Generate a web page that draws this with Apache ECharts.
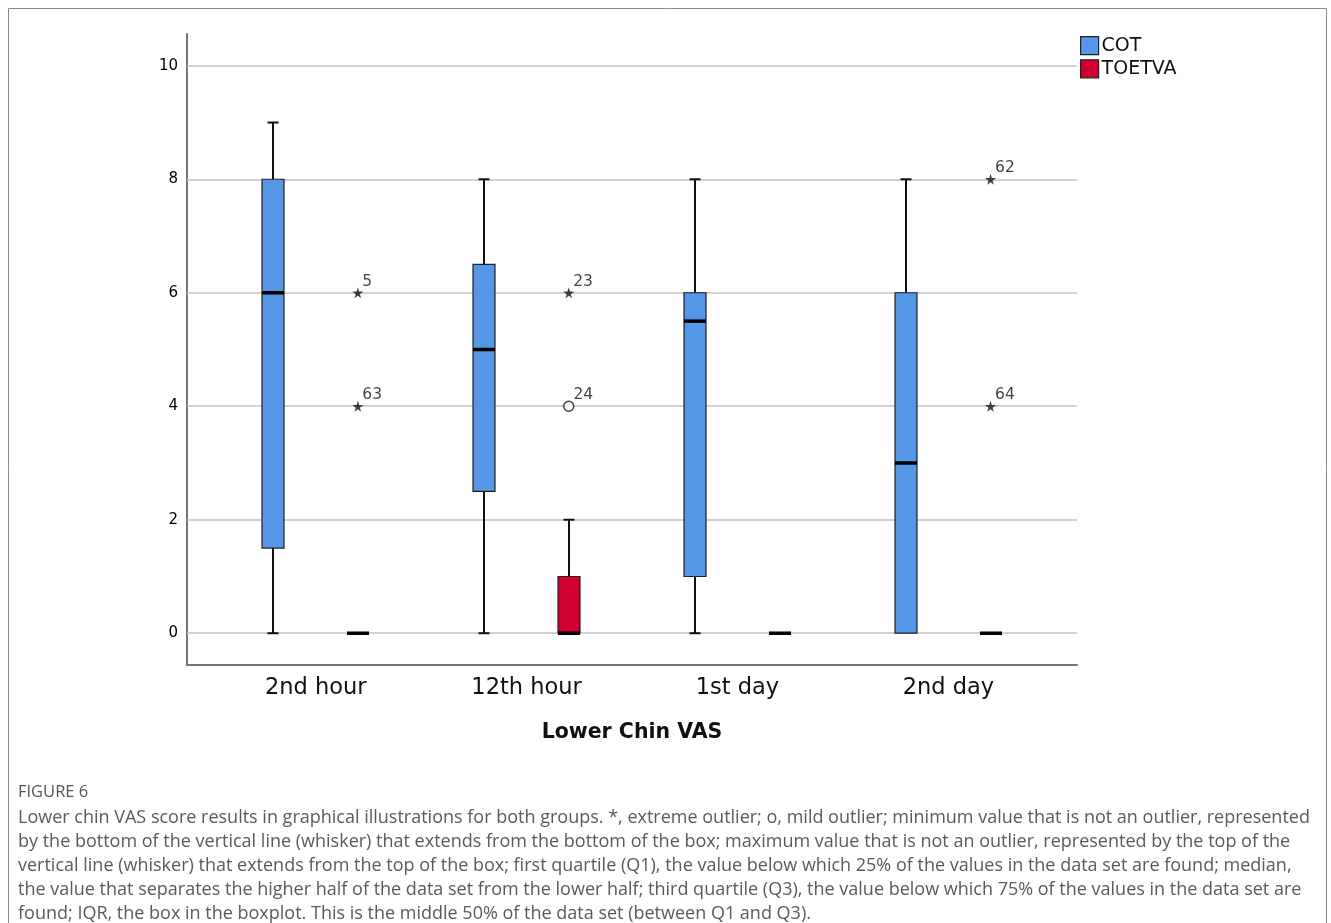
<!DOCTYPE html>
<html>
<head>
<meta charset="utf-8">
<script src="https://cdn.jsdelivr.net/npm/echarts@6/dist/echarts.min.js"></script>
<style>
html,body{margin:0;padding:0;background:#fff;}
#chart{width:1331px;height:923px;}
</style>
</head>
<body>
<div id="chart"></div>
<script>
const categories = ['2nd hour', '12th hour', '1st day', '2nd day'];
// [min, Q1, median, Q3, max]
const cotStats = [[0, 1.5, 6, 8, 9], [0, 2.5, 5, 6.5, 8], [0, 1, 5.5, 6, 8], [0, 0, 3, 6, 8]];
const toetvaStats = [[0, 0, 0, 0, 0], [0, 0, 0, 1, 2], [0, 0, 0, 0, 0], [0, 0, 0, 0, 0]];
// [category index, value, case label] (TOETVA group)
const extremeOutliers = [[0, 6, '5'], [0, 4, '63'], [1, 6, '23'], [3, 8, '62'], [3, 4, '64']];
const mildOutliers = [[1, 4, '24']];
const yTicks = [0, 2, 4, 6, 8, 10];
const xTicks = [0, 1, 2, 3];
const captionTitle = 'FIGURE 6';
const captionLines = [
  'Lower chin VAS score results in graphical illustrations for both groups. *, extreme outlier; o, mild outlier; minimum value that is not an outlier, represented',
  'by the bottom of the vertical line (whisker) that extends from the bottom of the box; maximum value that is not an outlier, represented by the top of the',
  'vertical line (whisker) that extends from the top of the box; first quartile (Q1), the value below which 25% of the values in the data set are found; median,',
  'the value that separates the higher half of the data set from the lower half; third quartile (Q3), the value below which 75% of the values in the data set are',
  'found; IQR, the box in the boxplot. This is the middle 50% of the data set (between Q1 and Q3).'
];

const COT_COLOR = '#5596e6';
const TOETVA_COLOR = '#d2002f';
const GROUP_OFFSET = 0.2;
const STAR = 'path://M50,0 L61,35 L98,35 L68,57 L79,91 L50,70 L21,91 L32,57 L2,35 L39,35 Z';

function boxRenderer(offset, color) {
  return function (params, api) {
    const x = api.value(0) + offset;
    const pMin = api.coord([x, api.value(1)]);
    const pQ1 = api.coord([x, api.value(2)]);
    const pMd = api.coord([x, api.value(3)]);
    const pQ3 = api.coord([x, api.value(4)]);
    const pMax = api.coord([x, api.value(5)]);
    const cx = Math.round(pMin[0]);
    const bw = 22, cw = 11;
    const children = [];
    const lineStyle = { stroke: '#111', lineWidth: 2 };
    if (pMin[1] - pQ1[1] > 0.5) {
      children.push({ type: 'line', shape: { x1: cx, y1: pMin[1], x2: cx, y2: pQ1[1] }, style: lineStyle });
      children.push({ type: 'line', shape: { x1: cx - cw / 2, y1: pMin[1], x2: cx + cw / 2, y2: pMin[1] }, style: lineStyle });
    }
    if (pQ3[1] - pMax[1] > 0.5) {
      children.push({ type: 'line', shape: { x1: cx, y1: pQ3[1], x2: cx, y2: pMax[1] }, style: lineStyle });
      children.push({ type: 'line', shape: { x1: cx - cw / 2, y1: pMax[1], x2: cx + cw / 2, y2: pMax[1] }, style: lineStyle });
    }
    children.push({
      type: 'rect',
      shape: { x: cx - bw / 2, y: pQ3[1], width: bw, height: pQ1[1] - pQ3[1] },
      style: { fill: color, stroke: '#222', lineWidth: 1.2 }
    });
    children.push({ type: 'line', shape: { x1: cx - bw / 2, y1: pMd[1], x2: cx + bw / 2, y2: pMd[1] }, style: { stroke: '#000', lineWidth: 3.5 } });
    return { type: 'group', children: children };
  };
}

const chart = echarts.init(document.getElementById('chart'), null, { renderer: 'canvas' });
const labelStyle = { show: true, position: 'right', distance: -1, offset: [0, -11], formatter: p => p.data[2], fontFamily: 'DejaVu Sans', fontSize: 15.5, color: '#111' };

chart.setOption({
  animation: false,
  backgroundColor: '#fff',
  grid: { left: 187, top: 34, width: 890, height: 631, containLabel: false },
  legend: {
    orient: 'vertical', left: 1080, top: 36, padding: 0, itemGap: 4,
    itemWidth: 18, itemHeight: 18,
    textStyle: { fontFamily: 'DejaVu Sans', fontSize: 19, color: '#111', padding: [0, 0, 0, -2] },
    data: [
      { name: 'COT', icon: 'rect', itemStyle: { color: COT_COLOR, borderColor: '#222', borderWidth: 1.2 } },
      { name: 'TOETVA', icon: 'rect', itemStyle: { color: TOETVA_COLOR, borderColor: '#222', borderWidth: 1.2 } }
    ]
  },
  xAxis: {
    type: 'value', min: -0.61, max: 3.61,
    axisLine: { show: true, onZero: false, lineStyle: { color: '#777', width: 2 } },
    axisTick: { show: false },
    splitLine: { show: false },
    axisLabel: { customValues: xTicks, formatter: v => categories[v] || '', fontFamily: 'DejaVu Sans', fontSize: 22.5, color: '#111', margin: 12 },
    name: 'Lower Chin VAS', nameLocation: 'middle', nameGap: 57,
    nameTextStyle: { fontFamily: 'DejaVu Sans', fontWeight: 'bold', fontSize: 20.5, color: '#111' }
  },
  yAxis: {
    type: 'value', min: -0.56, max: 10.56,
    axisLine: { show: true, onZero: false, lineStyle: { color: '#777', width: 2 } },
    axisTick: { show: false },
    splitLine: { show: false },
    axisLabel: { customValues: yTicks, fontFamily: 'DejaVu Sans', fontSize: 15, color: '#000', margin: 9 }
  },
  series: [
    {
      type: 'line', data: [], silent: true, z: 1,
      markLine: {
        silent: true, z: 1, symbol: ['none', 'none'], label: { show: false },
        lineStyle: { color: '#c2c2c2', width: 1.5, type: 'solid' },
        data: yTicks.map(v => ({ yAxis: v }))
      }
    },
    {
      name: 'COT', type: 'custom', z: 3, itemStyle: { color: COT_COLOR },
      renderItem: boxRenderer(-GROUP_OFFSET, COT_COLOR),
      encode: { x: 0, y: [1, 2, 3, 4, 5] },
      data: cotStats.map((s, i) => [i].concat(s))
    },
    {
      name: 'TOETVA', type: 'custom', z: 3, itemStyle: { color: TOETVA_COLOR },
      renderItem: boxRenderer(GROUP_OFFSET, TOETVA_COLOR),
      encode: { x: 0, y: [1, 2, 3, 4, 5] },
      data: toetvaStats.map((s, i) => [i].concat(s))
    },
    {
      type: 'scatter', z: 4, symbol: STAR, symbolSize: 11,
      itemStyle: { color: '#111' },
      label: labelStyle,
      data: extremeOutliers.map(d => [d[0] + GROUP_OFFSET, d[1], d[2]])
    },
    {
      type: 'scatter', z: 4, symbol: 'circle', symbolSize: 10,
      itemStyle: { color: '#fff', borderColor: '#111', borderWidth: 1.5 },
      label: labelStyle,
      data: mildOutliers.map(d => [d[0] + GROUP_OFFSET, d[1], d[2]])
    }
  ],
  graphic: [
    { type: 'rect', silent: true, z: 0, shape: { x: 8.5, y: 8.5, width: 1318, height: 1000 }, style: { fill: 'none', stroke: '#8a8a8a', lineWidth: 1 } },
    { type: 'text', left: 18, top: 784, style: { text: captionTitle, fontFamily: 'Open Sans', fontSize: 16.5, fill: '#555' } },
    {
      type: 'text', left: 18, top: 806,
      style: { text: captionLines.join('\n'), fontFamily: 'Open Sans', fontSize: 18, lineHeight: 24, fill: '#5a5a5a' }
    }
  ]
});
</script>
</body>
</html>
